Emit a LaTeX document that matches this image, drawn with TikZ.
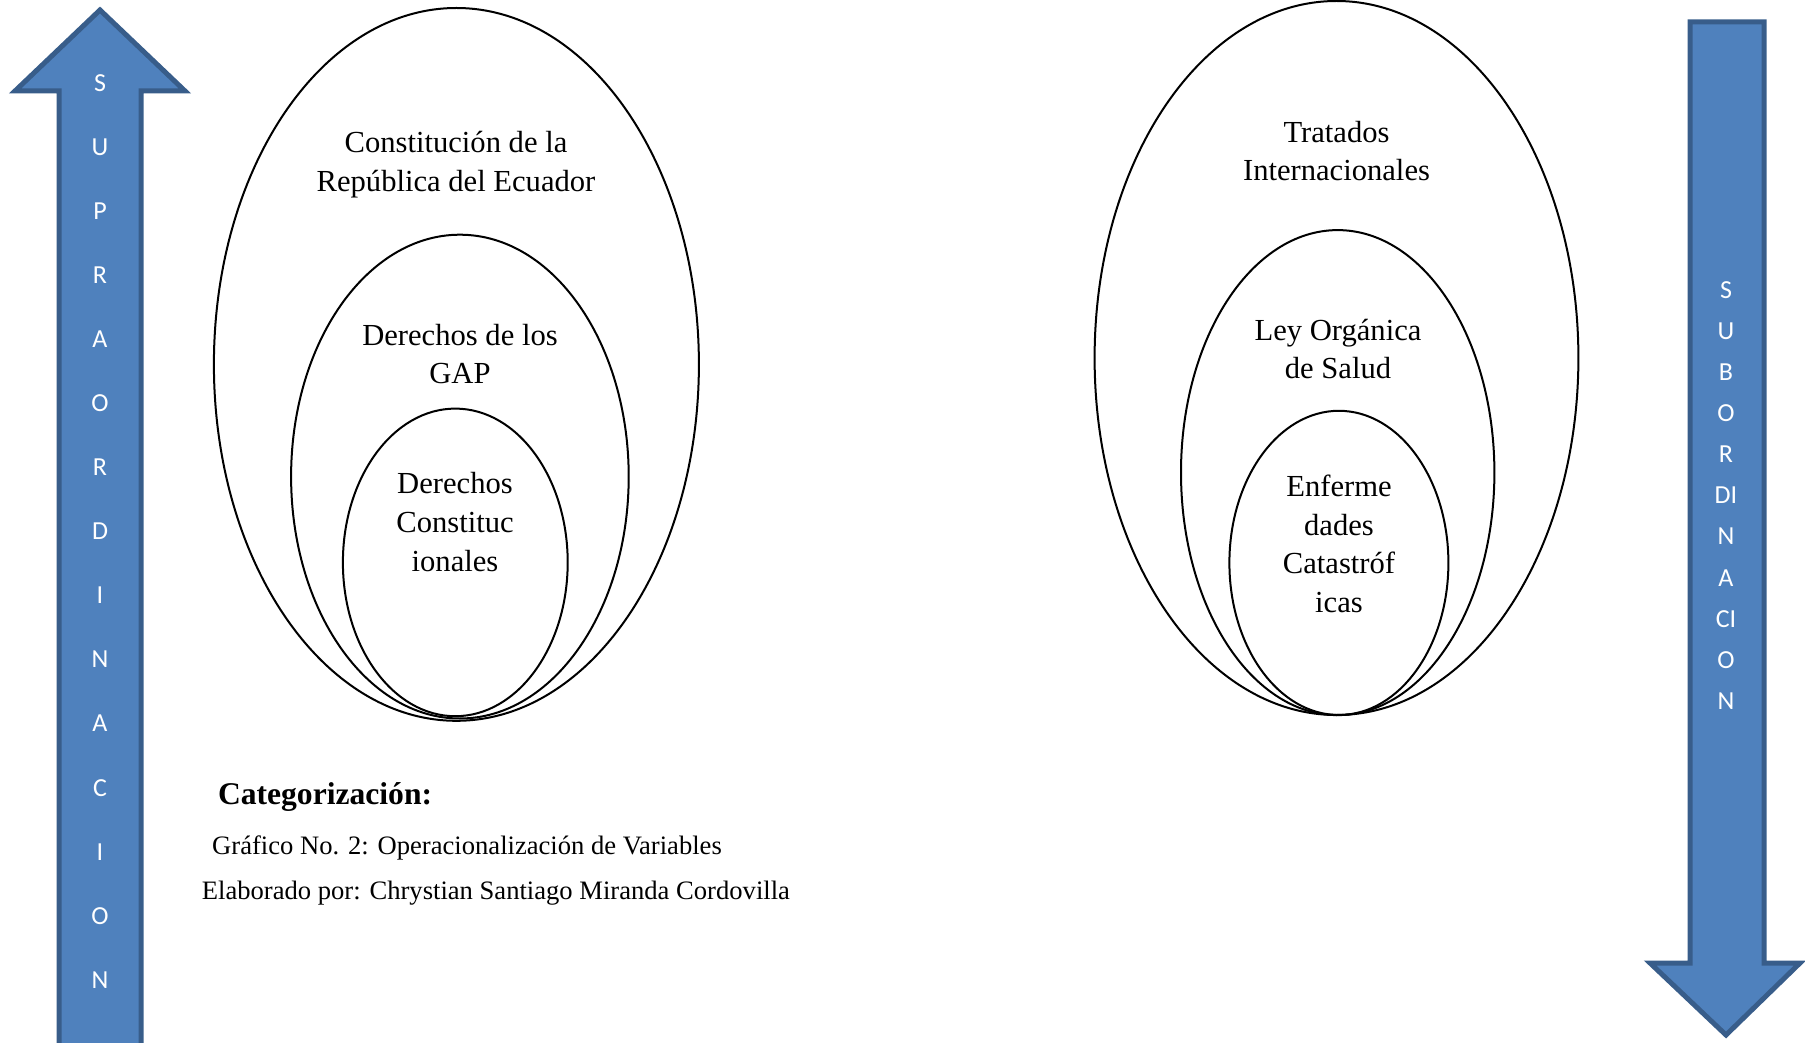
\documentclass[tikz,border=0pt]{standalone}
\usepackage{fontspec}
\setmainfont{Liberation Serif}
\newfontfamily\arrowfont{Carlito}
\definecolor{arrowfill}{HTML}{4F81BD}
\definecolor{arrowline}{HTML}{385D8A}

\begin{document}
\begin{tikzpicture}[x=0.5pt,y=-0.5pt]
        \tikzstyle{every node} = [inner sep=0pt]
        \tikzstyle{arrowbody} = [fill=arrowfill,draw=arrowline,line width=2.5pt,line join=miter]
        \tikzstyle{arrowletter} = [text=white,font=\arrowfont\fontsize{13}{15.6}\selectfont]
        \tikzstyle{setring} = [draw=black,line width=1pt]
        \tikzstyle{setlabel} = [align=center,font=\fontsize{15.3}{19.3}\selectfont]
        \tikzstyle{caption} = [anchor=west,font=\fontsize{13.3}{16}\selectfont]
        \useasboundingbox (0,0) rectangle (1805,1043);
        % block arrows
        \draw [arrowbody] (100,10) -- (185,91) -- (141,91) -- (141,1050) -- (59,1050)
          -- (59,91) -- (15,91) -- cycle;
        \draw [arrowbody] (1690,22) -- (1764,22) -- (1764,963) -- (1800,963) -- (1726,1035)
          -- (1650,963) -- (1690,963) -- cycle;
        \foreach \l [count=\i] in {S,U,P,R,A,O,R,D,I,N,A,C,I,O,N}
          \node [arrowletter] (supra\i) at (100,{83+64.06*(\i-1)}) {\l};
        \foreach \l [count=\i] in {S,U,B,O,R,DI,N,A,CI,O,N}
          \node [arrowletter] (subor\i) at (1726,{290+41.1*(\i-1)}) {\l};
        % left sets
        \draw [setring] (456.4,364.4) ellipse [x radius=242.5, y radius=356.4];
        \draw [setring] (459.9,476.6) ellipse [x radius=168.8, y radius=241.9];
        \draw [setring] (455.3,562.4) ellipse [x radius=112.4, y radius=153.8];
        \node [setlabel] (const) at (456,164.5) {Constitución de la\\República del Ecuador};
        \node [setlabel] (gap) at (460,354) {Derechos de los\\GAP};
        \node [setlabel] (dcons) at (455,522) {Derechos\\Constituc\\ionales};
        % right sets
        \draw [setring] (1336.5,358) ellipse [x radius=241.9, y radius=357];
        \draw [setring] (1337.7,472.6) ellipse [x radius=156.7, y radius=242.5];
        \draw [setring] (1338.9,562.9) ellipse [x radius=109.5, y radius=152.1];
        \node [setlabel] (trat) at (1336.5,151) {Tratados\\Internacionales};
        \node [setlabel] (ley) at (1338,349) {Ley Orgánica\\de Salud};
        \node [setlabel] (enf) at (1339,544) {Enferme\\dades\\Catastróf\\icas};
        % captions
        \node [caption,font=\bfseries\fontsize{15.8}{19}\selectfont] (cat) at (217.6,796.8) {Categorización:};
        \node [caption] (graf) at (211.8,847.5) {Gráfico No. 2: Operacionalización de Variables};
        \node [caption] (elab) at (201.5,893.5) {Elaborado por: Chrystian Santiago Miranda Cordovilla};
      \end{tikzpicture}
\end{document}
